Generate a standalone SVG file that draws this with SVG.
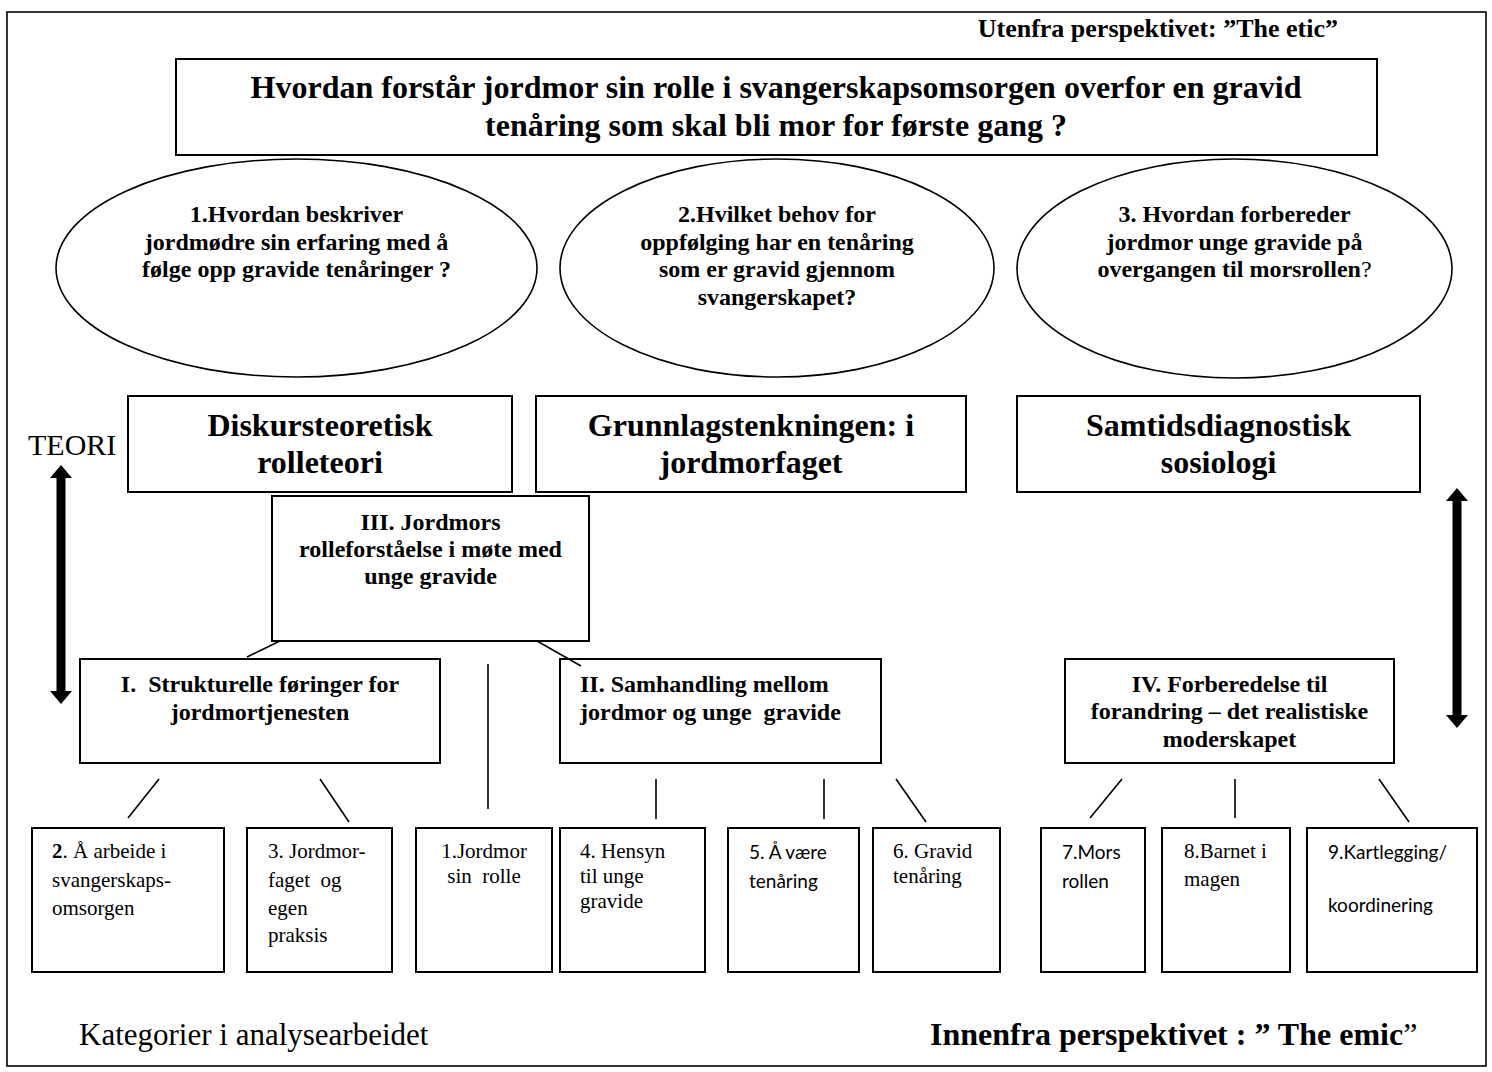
<svg xmlns="http://www.w3.org/2000/svg" width="1492" height="1072" viewBox="0 0 1492 1072">
<style>
.b{fill:#fff;stroke:#000;stroke-width:2}
.e{fill:#fff;stroke:#000;stroke-width:1.6}
.ln{stroke:#000;stroke-width:1.6;fill:none}
.ar{fill:#000;stroke:none}
.tb{font-family:"Liberation Serif","Times New Roman",serif;font-weight:bold;fill:#000}
.tr{font-family:"Liberation Serif","Times New Roman",serif;fill:#000}
.tc{font-family:Lato,"Open Sans",sans-serif;fill:#000}
.m{text-anchor:middle}
</style>
<rect x="0" y="0" width="1492" height="1072" fill="#fff"/>
<rect x="7" y="12" width="1479" height="1054" fill="none" stroke="#000" stroke-width="1.6"/>

<text id="etic" class="tb" x="1338" y="37" font-size="26" text-anchor="end">Utenfra perspektivet: ”The etic”</text>

<g id="question">
<rect class="b" x="176" y="59" width="1201" height="96"/>
<text class="tb m" x="776" y="98" font-size="32">Hvordan forstår jordmor sin rolle i svangerskapsomsorgen overfor en gravid</text>
<text class="tb m" x="776" y="136" font-size="32">tenåring som skal bli mor for første gang ?</text>
</g>

<g id="q1">
<ellipse class="e" cx="296.5" cy="268" rx="240.5" ry="109"/>
<text class="tb m" font-size="24" x="296.5" y="222">1.Hvordan beskriver</text>
<text class="tb m" font-size="24" x="296.5" y="250">jordmødre sin erfaring med å</text>
<text class="tb m" font-size="24" x="296.5" y="277">følge opp gravide tenåringer ?</text>
</g>
<g id="q2">
<ellipse class="e" cx="777" cy="268" rx="217" ry="109"/>
<text class="tb m" font-size="24" x="777" y="222">2.Hvilket behov for</text>
<text class="tb m" font-size="24" x="777" y="250">oppfølging har en tenåring</text>
<text class="tb m" font-size="24" x="777" y="277">som er gravid gjennom</text>
<text class="tb m" font-size="24" x="777" y="305">svangerskapet?</text>
</g>
<g id="q3">
<ellipse class="e" cx="1234.5" cy="268.5" rx="217.5" ry="109.5"/>
<text class="tb m" font-size="24" x="1234.5" y="222">3. Hvordan forbereder</text>
<text class="tb m" font-size="24" x="1234.5" y="250">jordmor unge gravide på</text>
<text class="tb m" font-size="24" x="1234.5" y="277">overgangen til morsrollen<tspan font-weight="normal">?</tspan></text>
</g>

<text id="teori" class="tr" x="28" y="455" font-size="30">TEORI</text>

<g id="t1">
<rect class="b" x="128" y="396" width="384" height="96"/>
<text class="tb m" font-size="32" x="320" y="436">Diskursteoretisk</text>
<text class="tb m" font-size="32" x="320" y="473">rolleteori</text>
</g>
<g id="t2">
<rect class="b" x="536" y="396" width="430" height="96"/>
<text class="tb m" font-size="32" x="751" y="436">Grunnlagstenkningen: i</text>
<text class="tb m" font-size="32" x="751" y="473">jordmorfaget</text>
</g>
<g id="t3">
<rect class="b" x="1017" y="396" width="403" height="96"/>
<text class="tb m" font-size="32" x="1218.5" y="436">Samtidsdiagnostisk</text>
<text class="tb m" font-size="32" x="1218.5" y="473">sosiologi</text>
</g>

<g id="arrows">
<path class="ar" d="M61,465 L72,478 L65.5,478 L65.5,691 L72,691 L61,704 L50,691 L56.5,691 L56.5,478 L50,478 Z"/>
<path class="ar" d="M1457,488 L1468,501 L1461.5,501 L1461.5,715 L1468,715 L1457,728 L1446,715 L1452.5,715 L1452.5,501 L1446,501 Z"/>
</g>

<g id="cIII">
<rect class="b" x="272" y="496" width="317" height="145"/>
<text class="tb m" font-size="24" x="430.5" y="530">III. Jordmors</text>
<text class="tb m" font-size="24" x="430.5" y="557">rolleforståelse i møte med</text>
<text class="tb m" font-size="24" x="430.5" y="584">unge gravide</text>
</g>
<g id="cI">
<rect class="b" x="80" y="659" width="360" height="104"/>
<text class="tb m" font-size="24" x="260" y="692" xml:space="preserve">I.  Strukturelle føringer for</text>
<text class="tb m" font-size="24" x="260" y="720">jordmortjenesten</text>
</g>
<g id="cII">
<rect class="b" x="560" y="659" width="321" height="104"/>
<text class="tb" font-size="24" x="580" y="692">II. Samhandling mellom</text>
<text class="tb" font-size="24" x="580" y="720" xml:space="preserve">jordmor og unge  gravide</text>
</g>
<g id="cIV">
<rect class="b" x="1065" y="659" width="329" height="104"/>
<text class="tb m" font-size="24" x="1229.5" y="692">IV. Forberedelse til</text>
<text class="tb m" font-size="24" x="1229.5" y="719">forandring – det realistiske</text>
<text class="tb m" font-size="24" x="1229.5" y="747">moderskapet</text>
</g>

<g id="connectors">
<line class="ln" x1="280" y1="641" x2="247" y2="657"/>
<line class="ln" x1="537" y1="641" x2="581" y2="666"/>
<line class="ln" x1="488" y1="664" x2="488" y2="809"/>
<line class="ln" x1="159" y1="779" x2="128" y2="818"/>
<line class="ln" x1="320" y1="779" x2="349" y2="822"/>
<line class="ln" x1="656" y1="779" x2="656" y2="819"/>
<line class="ln" x1="824" y1="779" x2="824" y2="819"/>
<line class="ln" x1="896" y1="779" x2="926" y2="822"/>
<line class="ln" x1="1122" y1="779" x2="1090" y2="818"/>
<line class="ln" x1="1235" y1="779" x2="1235" y2="818"/>
<line class="ln" x1="1379" y1="779" x2="1409" y2="822"/>
</g>

<g id="k2">
<rect class="b" x="32" y="828" width="192" height="144"/>
<text class="tr" font-size="21" x="52" y="858"><tspan font-weight="bold">2</tspan>. Å arbeide i</text>
<text class="tr" font-size="21" x="52" y="887">svangerskaps-</text>
<text class="tr" font-size="21" x="52" y="915">omsorgen</text>
</g>
<g id="k3">
<rect class="b" x="247" y="828" width="145" height="144"/>
<text class="tr" font-size="21" x="268" y="858">3. Jordmor-</text>
<text class="tr" font-size="21" x="268" y="887" xml:space="preserve">faget  og</text>
<text class="tr" font-size="21" x="268" y="915">egen</text>
<text class="tr" font-size="21" x="268" y="942">praksis</text>
</g>
<g id="k1">
<rect class="b" x="416" y="828" width="136" height="144"/>
<text class="tr m" font-size="21" x="484" y="858">1.Jordmor</text>
<text class="tr m" font-size="21" x="484" y="883" xml:space="preserve">sin  rolle</text>
</g>
<g id="k4">
<rect class="b" x="560" y="828" width="145" height="144"/>
<text class="tr" font-size="21" x="580" y="858">4. Hensyn</text>
<text class="tr" font-size="21" x="580" y="883">til unge</text>
<text class="tr" font-size="21" x="580" y="908">gravide</text>
</g>
<g id="k5">
<rect class="b" x="728" y="828" width="131" height="144"/>
<text class="tc" font-size="19" x="749" y="859">5. Å være</text>
<text class="tc" font-size="19" x="749" y="888">tenåring</text>
</g>
<g id="k6">
<rect class="b" x="873" y="828" width="127" height="144"/>
<text class="tr" font-size="21" x="893" y="858">6. Gravid</text>
<text class="tr" font-size="21" x="893" y="883">tenåring</text>
</g>
<g id="k7">
<rect class="b" x="1041" y="828" width="104" height="144"/>
<text class="tc" font-size="19" x="1062" y="859">7.Mors</text>
<text class="tc" font-size="19" x="1062" y="888">rollen</text>
</g>
<g id="k8">
<rect class="b" x="1162" y="828" width="128" height="144"/>
<text class="tr" font-size="21" x="1184" y="858">8.Barnet i</text>
<text class="tr" font-size="21" x="1184" y="886">magen</text>
</g>
<g id="k9">
<rect class="b" x="1307" y="828" width="170" height="144"/>
<text class="tc" font-size="19" x="1328" y="859">9.Kartlegging/</text>
<text class="tc" font-size="19" x="1328" y="912">koordinering</text>
</g>

<text id="kategorier" class="tr" x="79" y="1045" font-size="31">Kategorier i analysearbeidet</text>
<text id="emic" class="tb" x="930" y="1045" font-size="32">Innenfra perspektivet : ” The emic<tspan font-weight="normal">”</tspan></text>
</svg>
